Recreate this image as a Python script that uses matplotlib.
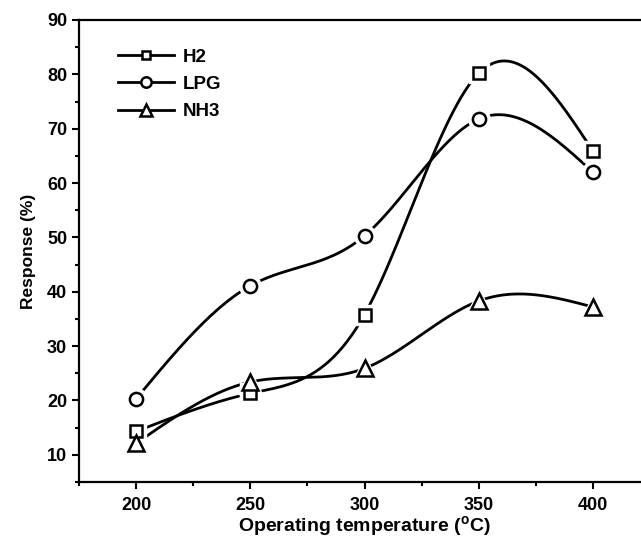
import numpy as np
import matplotlib
matplotlib.use("Agg")
import matplotlib.pyplot as plt
from matplotlib.ticker import MultipleLocator
from matplotlib.lines import Line2D

temps = [200, 250, 300, 350, 400]
h2 = [14.3, 21.3, 35.8, 80.2, 65.9]
lpg = [20.3, 41.1, 50.3, 71.8, 62.0]
nh3 = [12.1, 23.4, 25.9, 38.3, 37.2]

plt.rcParams['font.family'] = ['Liberation Sans', 'DejaVu Sans']
plt.rcParams['font.weight'] = 'bold'
plt.rcParams['mathtext.fontset'] = 'custom'
plt.rcParams['mathtext.rm'] = 'Liberation Sans:bold'
plt.rcParams['mathtext.bf'] = 'Liberation Sans:bold'


def natural_spline(x, y, n=300):
    x = np.asarray(x, float)
    y = np.asarray(y, float)
    m = len(x)
    h = np.diff(x)
    A = np.zeros((m, m))
    b = np.zeros(m)
    A[0, 0] = 1
    A[-1, -1] = 1
    for i in range(1, m - 1):
        A[i, i - 1] = h[i - 1]
        A[i, i] = 2 * (h[i - 1] + h[i])
        A[i, i + 1] = h[i]
        b[i] = 6 * ((y[i + 1] - y[i]) / h[i] - (y[i] - y[i - 1]) / h[i - 1])
    M = np.linalg.solve(A, b)
    xs = np.linspace(x[0], x[-1], n)
    ys = np.empty_like(xs)
    for k, xv in enumerate(xs):
        i = min(np.searchsorted(x, xv, side='right') - 1, m - 2)
        t1 = x[i + 1] - xv
        t2 = xv - x[i]
        ys[k] = (M[i] * t1 ** 3 / (6 * h[i]) + M[i + 1] * t2 ** 3 / (6 * h[i])
                 + (y[i] / h[i] - M[i] * h[i] / 6) * t1
                 + (y[i + 1] / h[i] - M[i + 1] * h[i] / 6) * t2)
    return xs, ys


fig = plt.figure(figsize=(6.41, 5.38), dpi=100)
ax = fig.add_axes([79 / 641, 56 / 538, 571 / 641, 462 / 538])

series = [(h2, 's', 'H2', 8.5, 6), (lpg, 'o', 'LPG', 9.5, 7.5), (nh3, '^', 'NH3', 11, 9)]
handles = []
for vals, mk, lab, ms, lms in series:
    xs, ys = natural_spline(temps, vals)
    ax.plot(xs, ys, color='black', lw=2, zorder=2)
    ax.plot(temps, vals, ls='none', marker=mk, ms=ms + 6, mfc='white', mec='white', zorder=3)
    ax.plot(temps, vals, ls='none', marker=mk, ms=ms, mfc='white', mec='black', mew=1.8, zorder=4)
    handles.append(Line2D([], [], color='black', lw=2, marker=mk, ms=lms, mfc='white',
                          mec='black', mew=1.8, label=lab))

ax.set_xlim(175, 425)
ax.set_ylim(5, 90)
ax.xaxis.set_major_locator(MultipleLocator(50))
ax.xaxis.set_minor_locator(MultipleLocator(25))
ax.yaxis.set_minor_locator(MultipleLocator(5))
ax.set_yticks([10, 20, 30, 40, 50, 60, 70, 80, 90])
ax.tick_params(which='both', direction='out', width=1.5, labelsize=13)
ax.tick_params(axis='x', pad=6)
ax.tick_params(which='major', length=5)
ax.tick_params(which='minor', length=3)
for s in ax.spines.values():
    s.set_linewidth(1.6)
for lbl in ax.get_xticklabels() + ax.get_yticklabels():
    lbl.set_fontweight('bold')

ax.set_xlabel('Operating temperature ($^\\mathbf{o}$C)', fontsize=14, fontweight='bold')
ax.xaxis.set_label_coords((364 - 79) / 571, -(532 - 482) / 462)
ax.xaxis.label.set_va('baseline')
ax.set_ylabel('Response (%)', fontsize=12.5, fontweight='bold', labelpad=8)

leg = ax.legend(handles=handles, loc='upper left', bbox_to_anchor=(0.038, 0.975), frameon=False,
                fontsize=13.5, handlelength=3.0, handletextpad=0.45, labelspacing=0.55)
for t in leg.get_texts():
    t.set_fontweight('bold')

fig.savefig('out.png', dpi=100)
